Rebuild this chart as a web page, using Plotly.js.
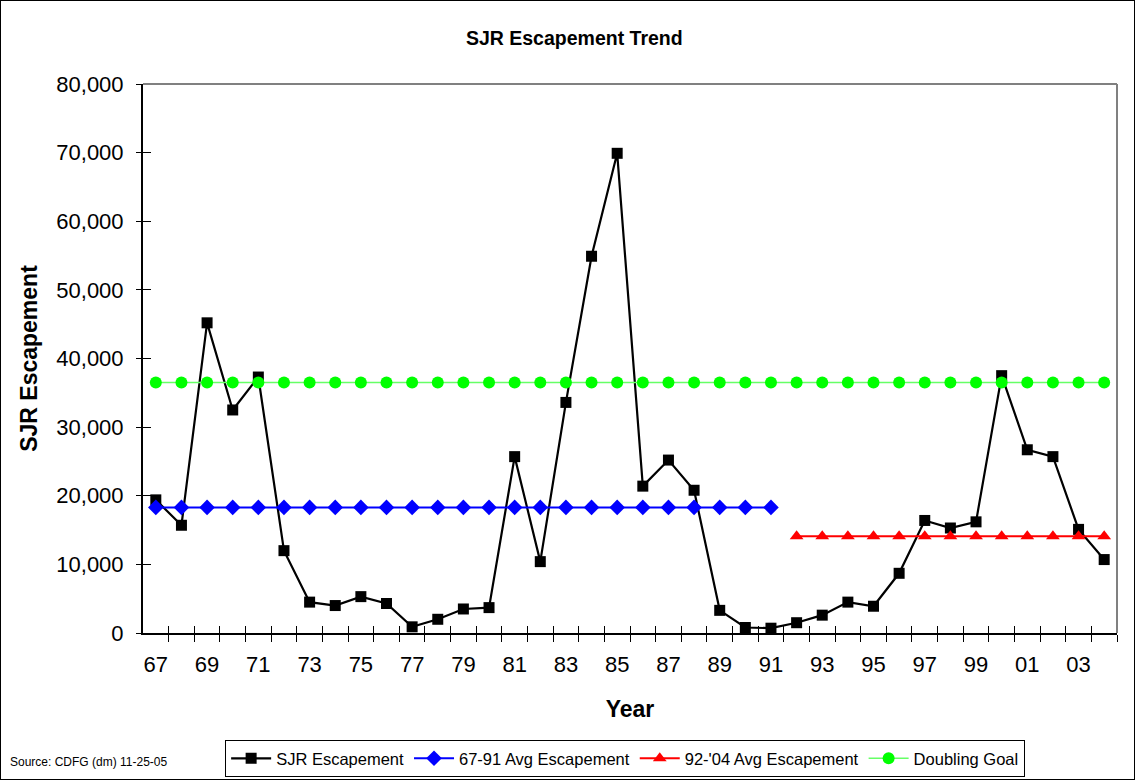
<!DOCTYPE html>
<html>
<head>
<meta charset="utf-8">
<script src="https://cdn.plot.ly/plotly-3.0.1.min.js"></script>
<style>
html,body{margin:0;padding:0;background:#fff;}
#chart{width:1135px;height:780px;border:1px solid #000;box-sizing:border-box;}
</style>
</head>
<body>
<div id="chart"></div>
<script>
var years = [1967,1968,1969,1970,1971,1972,1973,1974,1975,1976,1977,1978,1979,1980,1981,1982,1983,1984,1985,1986,1987,1988,1989,1990,1991,1992,1993,1994,1995,1996,1997,1998,1999,2000,2001,2002,2003,2004];
var sjrEscapement = [19400,15700,45200,32500,37300,12000,4500,4000,5300,4300,900,2000,3500,3700,25700,10400,33600,54900,69900,21400,25200,20800,3300,800,700,1500,2600,4500,3900,8700,16400,15300,16200,37500,26700,25700,15100,10700];
var years6791 = [1967,1968,1969,1970,1971,1972,1973,1974,1975,1976,1977,1978,1979,1980,1981,1982,1983,1984,1985,1986,1987,1988,1989,1990,1991];
var avg6791 = [18300,18300,18300,18300,18300,18300,18300,18300,18300,18300,18300,18300,18300,18300,18300,18300,18300,18300,18300,18300,18300,18300,18300,18300,18300];
var years9204 = [1992,1993,1994,1995,1996,1997,1998,1999,2000,2001,2002,2003,2004];
var avg9204 = [14100,14100,14100,14100,14100,14100,14100,14100,14100,14100,14100,14100,14100];
var doublingGoal = [36500,36500,36500,36500,36500,36500,36500,36500,36500,36500,36500,36500,36500,36500,36500,36500,36500,36500,36500,36500,36500,36500,36500,36500,36500,36500,36500,36500,36500,36500,36500,36500,36500,36500,36500,36500,36500,36500];
var xTickVals = [1967,1969,1971,1973,1975,1977,1979,1981,1983,1985,1987,1989,1991,1993,1995,1997,1999,2001,2003];
var xTickText = ["67","69","71","73","75","77","79","81","83","85","87","89","91","93","95","97","99","01","03"];
var yTickVals = [0,10000,20000,30000,40000,50000,60000,70000,80000];

var boundaries = years.map(function(y){return y + 0.5;});
var xr = [1966.5, 2004.5];
var yr = [0, 80000];
var FONT = "Arial, 'Liberation Sans', sans-serif";

var traces = [
  {x: years, y: sjrEscapement, name: 'SJR Escapement', type: 'scatter', mode: 'lines+markers',
   line: {color: '#000000', width: 2.2}, marker: {symbol: 'square', size: 11, color: '#000000'}},
  {x: years6791, y: avg6791, name: '67-91 Avg Escapement', type: 'scatter', mode: 'lines+markers',
   line: {color: '#0000ff', width: 2}, marker: {symbol: 'diamond', size: 12, color: '#0000ff'}},
  {x: years9204, y: avg9204, name: "92-'04 Avg Escapement", type: 'scatter', mode: 'lines+markers',
   line: {color: '#ff0000', width: 2}, marker: {symbol: 'triangle-up', size: 12, color: '#ff0000'}},
  {x: years, y: doublingGoal, name: 'Doubling Goal', type: 'scatter', mode: 'lines+markers',
   line: {color: '#66ff66', width: 1.5}, marker: {symbol: 'circle', size: 12, color: '#00ff00'}},
  // empty carrier so the overlay axes (inside tick marks) are drawn
  {x: [], y: [], xaxis: 'x2', yaxis: 'y2', type: 'scatter', mode: 'markers', showlegend: false, hoverinfo: 'skip'}
];

var layout = {
  width: 1133, height: 778,
  margin: {l: 142, r: 17, t: 83, b: 146, autoexpand: false},
  paper_bgcolor: '#ffffff', plot_bgcolor: '#ffffff',
  font: {family: FONT, color: '#000000'},
  showlegend: true,
  title: {text: '<b>SJR Escapement Trend</b>', font: {size: 19.5, family: FONT, color: '#000'},
          xref: 'container', yref: 'container', x: 0.506, y: 0.952, xanchor: 'center', yanchor: 'middle'},
  xaxis: {type: 'linear', range: xr, tickvals: xTickVals, ticktext: xTickText, ticks: '', automargin: false,
          minor: {tickvals: boundaries, ticks: 'outside', ticklen: 7, tickcolor: '#000', tickwidth: 1, showgrid: false},
          showgrid: false, zeroline: false, showline: true, linecolor: '#000', linewidth: 1.5,
          tickfont: {size: 22, family: FONT}, ticklabelstandoff: 11,
          title: {text: '<b>Year</b>', font: {size: 23, family: FONT}, standoff: 25}},
  xaxis2: {overlaying: 'x', anchor: 'y2', range: xr, tickvals: boundaries, ticks: 'inside', ticklen: 7, automargin: false,
           tickcolor: '#000', tickwidth: 1, showticklabels: false, showgrid: false, zeroline: false, showline: false},
  yaxis: {range: yr, tickvals: yTickVals, tickformat: ',d', ticks: 'outside', ticklen: 5, automargin: false,
          tickcolor: '#000', showgrid: false, zeroline: false, showline: true, linecolor: '#000', linewidth: 2,
          tickfont: {size: 22, family: FONT}, ticklabelstandoff: 8,
          title: {text: '<b>SJR Escapement</b>', font: {size: 23, family: FONT}, standoff: 12}},
  yaxis2: {overlaying: 'y', anchor: 'x2', range: yr, tickvals: yTickVals, ticks: 'inside', ticklen: 8, automargin: false,
           tickcolor: '#000', showticklabels: false, showgrid: false, zeroline: false, showline: false},
  legend: {orientation: 'h', x: 0.495, xanchor: 'center', y: -0.195, yanchor: 'top',
           bordercolor: '#000', borderwidth: 1, bgcolor: '#fff',
           font: {size: 16.5, family: FONT}, itemwidth: 40, tracegroupgap: 0},
  shapes: [
    {type: 'line', xref: 'paper', yref: 'paper', x0: 0, x1: 1, y0: 1, y1: 1, line: {color: '#808080', width: 2}},
    {type: 'line', xref: 'paper', yref: 'paper', x0: 1, x1: 1, y0: 0, y1: 1, line: {color: '#808080', width: 2}}
  ],
  annotations: [
    {text: 'Source: CDFG (dm) 11-25-05', xref: 'paper', yref: 'paper', x: -0.1385, y: -0.235,
     xanchor: 'left', yanchor: 'middle', showarrow: false, font: {size: 12, family: FONT}}
  ]
};

Plotly.newPlot('chart', traces, layout, {displayModeBar: false, staticPlot: true});
</script>
</body>
</html>
